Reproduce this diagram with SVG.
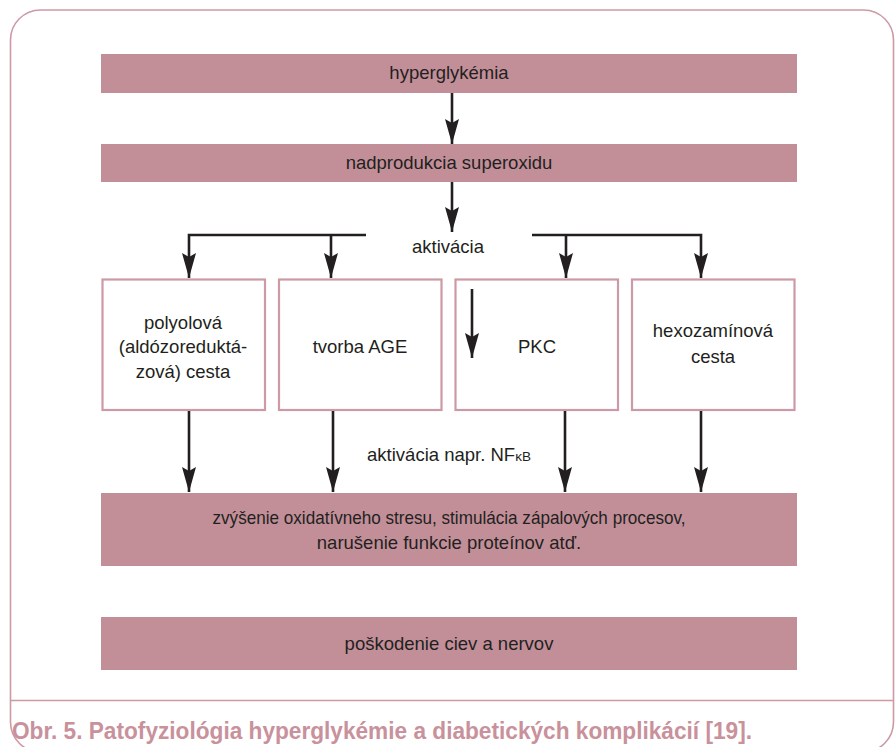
<svg xmlns="http://www.w3.org/2000/svg" width="895" height="747" viewBox="0 0 895 747">
<style>
.bar{fill:#c28f99}
.box{fill:#fff;stroke:#cc9aa4;stroke-width:2.2}
.t{font-family:"Liberation Sans",Arial,sans-serif;font-size:18.5px;fill:#231f20;text-anchor:middle}
.c{stroke:#231f20;stroke-width:2.6;fill:none;marker-end:url(#ah)}
.cap{font-family:"Liberation Sans",Arial,sans-serif;font-weight:bold;font-size:23.5px;fill:#c8919b}
</style>
<defs>
<marker id="ah" markerUnits="userSpaceOnUse" markerWidth="26" markerHeight="16" viewBox="0 -8 26 16" refX="25" refY="0" orient="auto">
<path d="M0,-7 L25,0 L0,7 L4,0 Z" fill="#231f20"/>
</marker>
</defs>
<rect x="0" y="0" width="895" height="747" fill="#fff"/>
<rect id="frame" x="10.5" y="10" width="883" height="742" rx="30" ry="30" fill="none" stroke="#cc9aa4" stroke-width="1.6"/>
<line x1="10.5" y1="700.5" x2="893.5" y2="700.5" stroke="#cc9aa4" stroke-width="1.6"/>

<g id="hyperglykemia">
<rect class="bar" x="101" y="54" width="696" height="39"/>
<text class="t" x="449" y="79">hyperglykémia</text>
</g>
<g id="superoxid">
<rect class="bar" x="101" y="144" width="696" height="38"/>
<text class="t" x="449" y="169">nadprodukcia superoxidu</text>
</g>
<g id="aktivacia">
<text class="t" x="448" y="253">aktivácia</text>
</g>
<g id="polyol">
<rect class="box" x="102.5" y="279.5" width="162.5" height="130.5"/>
<text class="t" x="183" y="329">polyolová</text>
<text class="t" x="183" y="353">(aldózoreduktá-</text>
<text class="t" x="183" y="378">zová) cesta</text>
</g>
<g id="age">
<rect class="box" x="279" y="279.5" width="162.5" height="130.5"/>
<text class="t" x="360" y="353">tvorba AGE</text>
</g>
<g id="pkc">
<rect class="box" x="455.5" y="279.5" width="162.5" height="130.5"/>
<text class="t" x="537" y="353">PKC</text>
</g>
<g id="hexozamin">
<rect class="box" x="632" y="279.5" width="162.5" height="130.5"/>
<text class="t" x="713" y="337">hexozamínová</text>
<text class="t" x="713" y="363">cesta</text>
</g>
<g id="nfkb">
<text class="t" x="449" y="461">aktivácia napr. NF<tspan font-size="13.5">κB</tspan></text>
</g>
<g id="stres">
<rect class="bar" x="101" y="493" width="696" height="73"/>
<text class="t" x="449" y="524" textLength="473" lengthAdjust="spacingAndGlyphs">zvýšenie oxidatívneho stresu, stimulácia zápalových procesov,</text>
<text class="t" x="449" y="549">narušenie funkcie proteínov atď.</text>
</g>
<g id="poskodenie">
<rect class="bar" x="101" y="617" width="696" height="53"/>
<text class="t" x="449" y="650">poškodenie ciev a nervov</text>
</g>

<g id="connectors">
<path class="c" d="M452,93 V144"/>
<path class="c" d="M452,182 V232"/>
<path class="c" d="M366,235 H189 V278"/>
<path class="c" d="M331,235 V278"/>
<path class="c" d="M532,235 H701 V278"/>
<path class="c" d="M566,235 V278"/>
<path class="c" d="M189,411 V492"/>
<path class="c" d="M333,411 V492"/>
<path class="c" d="M565,411 V492"/>
<path class="c" d="M701,411 V492"/>
<path class="c" d="M472,289 V358"/>
</g>

<text class="cap" x="12" y="739" textLength="740" lengthAdjust="spacingAndGlyphs">Obr. 5. Patofyziológia hyperglykémie a diabetických komplikácií [19].</text>
</svg>
